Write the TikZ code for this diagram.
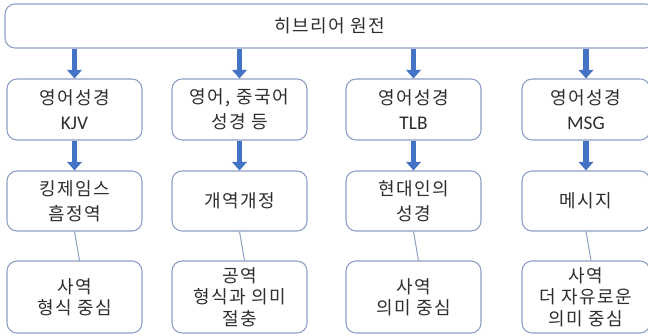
\documentclass[tikz,border=0pt]{standalone}
\usepackage{fontspec}
\setmainfont{Noto Sans CJK KR}[LetterSpace=8]
\newfontfamily\latinname{Carlito}
\usetikzlibrary{arrows.meta}
\definecolor{boxline}{RGB}{140,158,196}
\definecolor{arrowblue}{RGB}{68,114,196}
\definecolor{inktext}{RGB}{45,45,45}
\tikzset{
  card/.style={draw=boxline, line width=0.8pt, rounded corners=7.5pt, fill=white,
    align=center, text=inktext, inner sep=0pt, minimum width=101.25pt,
    font=\fontsize{13.5pt}{18.5pt}\selectfont},
  toprow/.style={card, minimum height=45.75pt},
  midrow/.style={card, minimum height=45pt},
  lowrow/.style={card, minimum height=54pt, font=\fontsize{13.5pt}{16pt}\selectfont},
  flow/.style={draw=arrowblue, line width=4pt, -{Triangle[width=11pt,length=6.5pt]}},
  link/.style={draw=boxline, line width=0.75pt}
}
\begin{document}
\begin{tikzpicture}[x=0.75pt, y=-0.75pt]
  \useasboundingbox (0,0) rectangle (648,335);
  \node[card, minimum width=487.5pt, minimum height=33pt] (hebrew) at (330,26) {히브리어 원전};

  \node[toprow] (kjv) at (74.5,109.5) {영어성경\\{\latinname\fontsize{14.5pt}{18.5pt}\selectfont KJV}};
  \node[toprow] (cuv) at (239.5,109.5) {영어, 중국어\\성경 등};
  \node[toprow] (tlb) at (413.5,109.5) {영어성경\\{\latinname\fontsize{14.5pt}{18.5pt}\selectfont TLB}};
  \node[toprow, minimum width=96pt] (msg) at (586,109.5) {영어성경\\{\latinname\fontsize{14.5pt}{18.5pt}\selectfont MSG}};

  \node[midrow] (kingjames) at (74.5,201) {킹제임스\\흠정역};
  \node[midrow] (revised) at (239.5,201) {개역개정};
  \node[midrow] (living) at (413.5,201) {현대인의\\성경};
  \node[midrow, minimum width=96pt] (message) at (586,201) {메시지};

  \node[lowrow] (kjvway) at (74.5,297) {사역\\형식 중심};
  \node[lowrow] (revway) at (239.5,297) {공역\\형식과 의미\\절충};
  \node[lowrow] (tlbway) at (413.5,297) {사역\\의미 중심};
  \node[lowrow, minimum width=96pt] (msgway) at (586,297) {사역\\더 자유로운\\의미 중심};

  \draw[flow] (hebrew.south -| kjv.north) -- (kjv.north);
  \draw[flow] (hebrew.south -| cuv.north) -- (cuv.north);
  \draw[flow] (hebrew.south -| tlb.north) -- (tlb.north);
  \draw[flow] (hebrew.south -| msg.north) -- (msg.north);

  \draw[flow] (kjv) -- (kingjames);
  \draw[flow] (cuv) -- (revised);
  \draw[flow] (tlb) -- (living);
  \draw[flow] (msg) -- (message);

  \draw[link] (kingjames.south) -- ([xshift=3.75pt]kjvway.north);
  \draw[link] (revised.south) -- ([xshift=3.75pt]revway.north);
  \draw[link] (living.south) -- ([xshift=3.75pt]tlbway.north);
  \draw[link] (message.south) -- ([xshift=3.75pt]msgway.north);
\end{tikzpicture}
\end{document}
